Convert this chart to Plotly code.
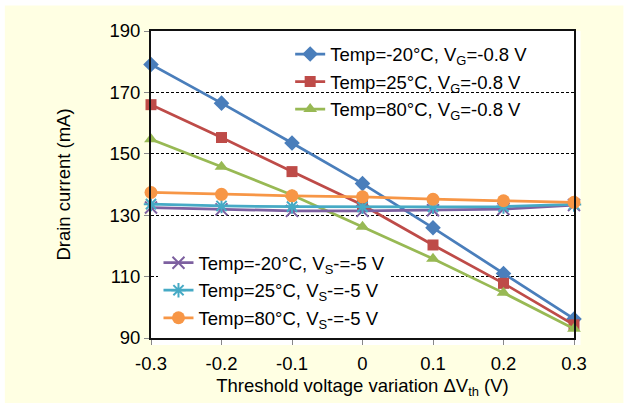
import plotly.graph_objects as go

# Threshold voltage variation (V)
dvth = [-0.3, -0.2, -0.1, 0.0, 0.1, 0.2, 0.3]
x_tick_labels = ["-0.3", "-0.2", "-0.1", "0", "0.1", "0.2", "0.3"]
y_tick_values = [90, 110, 130, 150, 170, 190]

# Drain current (mA), gate-bias compensation
id_m20_vg = [179.1, 166.5, 153.5, 140.3, 125.9, 111.0, 96.2]
id_25_vg = [166.0, 155.3, 144.2, 133.3, 120.3, 107.8, 94.3]
id_80_vg = [154.7, 145.8, 136.6, 126.2, 115.8, 104.7, 93.0]

# Drain current (mA), source-bias compensation
id_m20_vs = [132.5, 131.9, 131.4, 131.4, 131.6, 132.0, 133.3]
id_25_vs = [133.6, 133.0, 132.8, 132.7, 132.7, 132.8, 133.5]
id_80_vs = [137.4, 136.8, 136.3, 136.0, 135.2, 134.7, 134.2]

series = [
    ("Temp=-20°C, V<sub>G</sub>=-0.8 V", id_m20_vg, "#4A7EBB", "diamond", 12, "legend"),
    ("Temp=25°C, V<sub>G</sub>=-0.8 V", id_25_vg, "#BE4B48", "square", 11, "legend"),
    ("Temp=80°C, V<sub>G</sub>=-0.8 V", id_80_vg, "#98B954", "triangle-up", 12, "legend"),
    ("Temp=-20°C, V<sub>S</sub>-=-5 V", id_m20_vs, "#7D60A0", "x-thin-open", 12, "legend2"),
    ("Temp=25°C, V<sub>S</sub>-=-5 V", id_25_vs, "#46AAC5", "asterisk-open", 12, "legend2"),
    ("Temp=80°C, V<sub>S</sub>-=-5 V", id_80_vs, "#F79646", "circle", 13, "legend2"),
]

FONT = "Liberation Sans, Arial, sans-serif"
FS = 18.5

# pixel -> paper helpers for the decorative panels
L, R, T, B = 150.5, 574.5, 30.5, 338.0
def px(x):
    return (x - L) / (R - L)
def py(y):
    return (B - y) / (B - T)

fig = go.Figure()
for i, (name, vals, color, sym, size, leg) in enumerate(series):
    open_sym = sym.endswith("open")
    fig.add_trace(go.Scatter(
        x=dvth, y=vals, name=name, mode="lines+markers",
        line=dict(color=color, width=2.75),
        marker=dict(symbol=sym, size=size, color=color,
                    line=dict(color=color, width=2 if open_sym else 0)),
        cliponaxis=False, legend=leg, legendgroup=str(i),
    ))

fig.update_layout(
    width=630, height=408,
    margin=dict(l=L, r=630 - R, t=T, b=408 - B),
    paper_bgcolor="white", plot_bgcolor="white",
    font=dict(family=FONT, size=FS, color="black"),
    showlegend=True,
    legend=dict(x=px(290), y=py(35), xanchor="left", yanchor="top",
                bgcolor="rgba(0,0,0,0)", tracegroupgap=0.5, font=dict(size=FS)),
    legend2=dict(x=px(158), y=py(244), xanchor="left", yanchor="top",
                 bgcolor="white", tracegroupgap=0.5, font=dict(size=FS)),
    xaxis=dict(range=[-0.3, 0.3], tickvals=dvth, ticktext=x_tick_labels,
               showgrid=False, zeroline=False, showline=True, mirror=True,
               linecolor="#111111", linewidth=2, ticks="outside", ticklen=5,
               tickcolor="#888888", tickfont=dict(size=FS), ticklabelstandoff=3,
               title=dict(text="Threshold voltage variation ΔV<sub>th</sub> (V)",
                          standoff=6, font=dict(size=FS))),
    yaxis=dict(range=[90, 190], tickvals=y_tick_values,
               showgrid=True, gridcolor="black", griddash="3px,2px", gridwidth=1,
               zeroline=False, showline=True, mirror=True,
               linecolor="#111111", linewidth=2, ticks="outside", ticklen=5,
               tickcolor="#888888", tickfont=dict(size=FS),
               title=dict(text="Drain current (mA)", standoff=34, font=dict(size=FS))),
    shapes=[
        dict(type="rect", xref="paper", yref="paper", layer="below",
             x0=px(4), x1=px(624), y0=py(403), y1=py(5),
             fillcolor="#FFFFE3", line=dict(width=0)),
        dict(type="rect", xref="paper", yref="paper", layer="below",
             x0=0, x1=px(581), y0=py(345), y1=1,
             fillcolor="white", line=dict(width=0)),
    ],
)

fig.write_html("out.html")
